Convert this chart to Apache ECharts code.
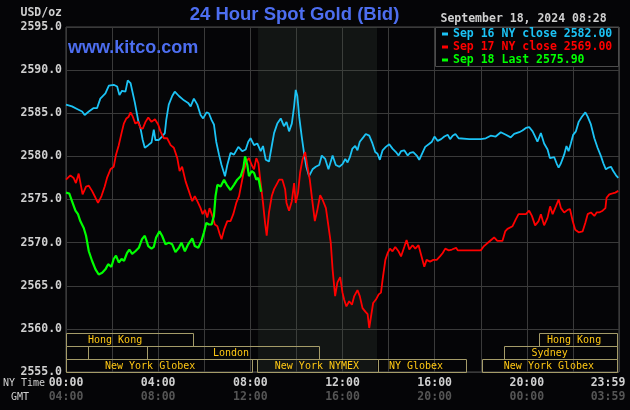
<!DOCTYPE html>
<html>
<head>
<meta charset="utf-8">
<script src="https://cdn.jsdelivr.net/npm/echarts@6/dist/echarts.min.js"></script>
<style>
html, body { margin: 0; padding: 0; background: #050507; }
#chart { width: 630px; height: 410px; }
</style>
</head>
<body>
<div id="chart"></div>
<script>
// [hours after NY midnight, bid USD/oz]
var sep16 = [
  [0.00, 2586.0], [0.26, 2585.8], [0.48, 2585.5], [0.70, 2585.2], [0.81, 2584.8], [0.99, 2585.2],
  [1.20, 2585.6], [1.35, 2585.6], [1.49, 2586.7], [1.71, 2587.3], [1.86, 2588.2], [2.07, 2588.3],
  [2.22, 2588.1], [2.32, 2587.1], [2.43, 2587.6], [2.58, 2587.5], [2.68, 2588.8], [2.80, 2588.5],
  [2.87, 2588.3], [2.99, 2586.2], [3.13, 2584.2], [3.23, 2583.3], [3.33, 2581.9], [3.42, 2581.0],
  [3.57, 2581.3], [3.71, 2581.6], [3.81, 2583.1], [3.88, 2581.9], [4.03, 2581.9], [4.17, 2582.3],
  [4.29, 2582.7], [4.35, 2584.2], [4.46, 2586.0], [4.61, 2587.0], [4.72, 2587.5], [4.90, 2587.0],
  [5.12, 2586.5], [5.30, 2586.2], [5.41, 2585.8], [5.55, 2586.7], [5.70, 2586.0], [5.84, 2584.8],
  [5.95, 2584.4], [6.10, 2585.1], [6.20, 2585.0], [6.32, 2584.2], [6.42, 2583.7], [6.52, 2581.7],
  [6.64, 2580.2], [6.75, 2579.0], [6.90, 2577.7], [7.00, 2579.0], [7.14, 2580.4], [7.29, 2580.2],
  [7.48, 2581.1], [7.65, 2580.6], [7.80, 2580.8], [7.91, 2581.7], [8.01, 2582.1], [8.16, 2581.3],
  [8.30, 2581.5], [8.45, 2580.6], [8.55, 2581.2], [8.67, 2579.6], [8.81, 2579.4], [8.93, 2581.2],
  [9.03, 2582.7], [9.17, 2583.8], [9.32, 2584.4], [9.46, 2583.5], [9.57, 2584.0], [9.68, 2582.9],
  [9.80, 2583.8], [9.90, 2585.8], [9.97, 2587.7], [10.04, 2587.0], [10.12, 2584.6], [10.23, 2582.3],
  [10.33, 2580.4], [10.43, 2578.8], [10.55, 2577.7], [10.70, 2578.5], [10.84, 2578.8], [10.99, 2579.0],
  [11.10, 2580.1], [11.25, 2579.7], [11.39, 2578.5], [11.57, 2580.1], [11.71, 2579.0], [11.86, 2578.8],
  [12.00, 2579.1], [12.12, 2579.7], [12.22, 2579.3], [12.32, 2579.9], [12.43, 2580.9], [12.55, 2581.2],
  [12.65, 2580.7], [12.75, 2581.7], [12.90, 2582.2], [13.01, 2582.6], [13.16, 2582.4], [13.30, 2581.5],
  [13.42, 2580.5], [13.52, 2580.3], [13.62, 2579.6], [13.74, 2580.7], [13.88, 2581.1], [14.03, 2581.4],
  [14.17, 2580.9], [14.32, 2580.5], [14.43, 2580.1], [14.54, 2580.6], [14.68, 2580.7], [14.83, 2580.1],
  [14.93, 2580.4], [15.07, 2580.5], [15.22, 2580.1], [15.33, 2579.6], [15.45, 2580.3], [15.59, 2581.1],
  [15.74, 2581.4], [15.88, 2581.7], [15.99, 2582.3], [16.13, 2581.8], [16.28, 2582.0], [16.42, 2582.3],
  [16.57, 2582.5], [16.67, 2582.0], [16.78, 2582.4], [16.90, 2582.6], [17.04, 2582.1], [17.50, 2582.0],
  [18.00, 2582.0], [18.22, 2582.1], [18.43, 2582.4], [18.65, 2582.3], [18.87, 2582.8], [19.09, 2582.5],
  [19.30, 2582.2], [19.45, 2582.6], [19.67, 2582.8], [19.81, 2583.0], [19.96, 2583.3], [20.10, 2583.4],
  [20.25, 2582.9], [20.36, 2582.3], [20.46, 2581.7], [20.61, 2582.7], [20.75, 2581.5], [20.90, 2580.8],
  [21.00, 2579.8], [21.19, 2579.9], [21.29, 2579.2], [21.38, 2578.7], [21.48, 2579.2], [21.62, 2580.2],
  [21.72, 2581.2], [21.81, 2580.6], [21.91, 2581.5], [22.01, 2582.5], [22.13, 2582.9], [22.25, 2584.0],
  [22.39, 2584.6], [22.54, 2585.1], [22.64, 2584.6], [22.78, 2583.7], [22.93, 2582.1], [23.07, 2581.0],
  [23.22, 2580.0], [23.32, 2579.2], [23.43, 2578.5], [23.55, 2578.7], [23.65, 2578.8], [23.75, 2578.3],
  [23.87, 2577.8], [23.97, 2577.5]
];
var sep17 = [
  [0.00, 2577.3], [0.19, 2577.8], [0.33, 2577.5], [0.43, 2576.9], [0.55, 2578.0], [0.62, 2577.8],
  [0.72, 2575.6], [0.87, 2576.5], [0.99, 2576.6], [1.13, 2576.0], [1.28, 2575.2], [1.39, 2574.6],
  [1.54, 2575.4], [1.68, 2576.5], [1.78, 2577.5], [1.93, 2578.5], [2.07, 2578.8], [2.17, 2580.2],
  [2.29, 2581.3], [2.41, 2582.7], [2.51, 2583.8], [2.62, 2584.4], [2.72, 2584.6], [2.80, 2585.1],
  [2.90, 2584.6], [3.01, 2583.8], [3.13, 2584.0], [3.23, 2583.3], [3.33, 2583.2], [3.45, 2584.0],
  [3.57, 2584.5], [3.71, 2584.0], [3.86, 2584.3], [4.00, 2583.7], [4.10, 2582.9], [4.25, 2582.1],
  [4.39, 2582.1], [4.54, 2581.3], [4.68, 2581.0], [4.83, 2579.8], [4.93, 2578.3], [5.04, 2578.8],
  [5.19, 2577.1], [5.33, 2576.0], [5.48, 2574.8], [5.59, 2575.4], [5.70, 2574.8], [5.84, 2574.0],
  [5.93, 2573.3], [6.03, 2573.8], [6.13, 2572.9], [6.23, 2574.0], [6.35, 2573.1], [6.46, 2572.1],
  [6.57, 2571.9], [6.67, 2571.0], [6.75, 2570.4], [6.86, 2571.5], [7.00, 2572.5], [7.14, 2572.5],
  [7.26, 2573.3], [7.39, 2574.6], [7.51, 2575.4], [7.62, 2576.9], [7.72, 2578.3], [7.83, 2579.4],
  [7.94, 2579.8], [8.06, 2579.0], [8.16, 2578.5], [8.26, 2579.8], [8.35, 2579.2], [8.45, 2576.9],
  [8.55, 2574.6], [8.64, 2572.3], [8.71, 2570.8], [8.81, 2573.5], [8.93, 2575.4], [9.03, 2576.2],
  [9.13, 2576.7], [9.25, 2577.3], [9.39, 2577.3], [9.51, 2576.2], [9.57, 2574.6], [9.68, 2573.7],
  [9.80, 2574.8], [9.90, 2576.9], [9.97, 2574.6], [10.07, 2575.8], [10.16, 2578.1], [10.26, 2579.6],
  [10.38, 2580.5], [10.48, 2578.8], [10.58, 2577.3], [10.70, 2574.6], [10.80, 2572.5], [10.91, 2573.8],
  [11.03, 2575.5], [11.13, 2575.0], [11.28, 2574.0], [11.39, 2571.9], [11.49, 2570.0], [11.57, 2566.9],
  [11.68, 2563.8], [11.78, 2565.4], [11.90, 2566.0], [12.00, 2564.2], [12.07, 2563.4], [12.17, 2562.6],
  [12.29, 2563.2], [12.41, 2562.8], [12.51, 2563.8], [12.65, 2564.5], [12.75, 2563.8], [12.87, 2562.4],
  [12.99, 2562.0], [13.09, 2561.7], [13.16, 2560.1], [13.23, 2561.3], [13.33, 2563.0], [13.45, 2563.4],
  [13.57, 2564.0], [13.67, 2564.2], [13.74, 2565.7], [13.86, 2568.0], [13.96, 2568.8], [14.06, 2569.3],
  [14.17, 2569.0], [14.29, 2569.5], [14.43, 2569.0], [14.54, 2568.4], [14.68, 2569.5], [14.78, 2570.3],
  [14.90, 2569.2], [15.04, 2569.7], [15.16, 2569.3], [15.30, 2569.7], [15.41, 2568.6], [15.55, 2567.2],
  [15.65, 2568.0], [15.80, 2567.8], [15.94, 2568.0], [16.09, 2568.0], [16.23, 2568.4], [16.35, 2568.8],
  [16.46, 2569.3], [16.61, 2569.1], [16.75, 2569.2], [16.93, 2569.4], [17.00, 2569.1], [18.00, 2569.1],
  [18.14, 2569.6], [18.36, 2570.1], [18.58, 2570.6], [18.72, 2570.2], [18.94, 2570.2], [19.06, 2571.3],
  [19.16, 2571.6], [19.38, 2571.9], [19.52, 2572.7], [19.64, 2573.3], [19.81, 2573.3], [19.96, 2573.3],
  [20.10, 2573.7], [20.22, 2573.1], [20.36, 2572.0], [20.51, 2572.5], [20.61, 2573.3], [20.75, 2572.0],
  [20.90, 2572.9], [21.01, 2574.2], [21.12, 2573.3], [21.26, 2574.2], [21.38, 2575.0], [21.48, 2574.0],
  [21.62, 2573.5], [21.77, 2573.8], [21.87, 2573.9], [21.99, 2572.5], [22.10, 2571.5], [22.25, 2571.2],
  [22.42, 2571.3], [22.54, 2572.3], [22.64, 2573.3], [22.78, 2573.5], [22.93, 2573.1], [23.03, 2573.5],
  [23.14, 2573.5], [23.29, 2573.7], [23.41, 2574.0], [23.46, 2575.2], [23.58, 2575.6], [23.72, 2575.7],
  [23.84, 2575.8], [23.97, 2576.0]
];
var sep18 = [
  [0.00, 2575.8], [0.14, 2575.7], [0.26, 2574.8], [0.41, 2573.7], [0.52, 2573.3], [0.62, 2572.5],
  [0.77, 2571.7], [0.87, 2570.8], [0.99, 2569.0], [1.13, 2567.9], [1.28, 2566.9], [1.42, 2566.3],
  [1.57, 2566.5], [1.71, 2566.9], [1.83, 2567.5], [1.97, 2567.2], [2.07, 2568.1], [2.17, 2568.5],
  [2.29, 2567.7], [2.41, 2568.1], [2.52, 2567.9], [2.65, 2568.8], [2.75, 2569.2], [2.87, 2568.7],
  [3.01, 2569.0], [3.16, 2569.4], [3.30, 2570.4], [3.42, 2570.8], [3.57, 2569.6], [3.71, 2569.3],
  [3.81, 2569.5], [3.91, 2570.6], [4.06, 2571.3], [4.17, 2570.8], [4.32, 2569.8], [4.46, 2570.0],
  [4.61, 2569.8], [4.75, 2568.9], [4.90, 2569.4], [5.01, 2570.0], [5.16, 2569.0], [5.30, 2569.8],
  [5.48, 2570.5], [5.59, 2569.6], [5.74, 2569.4], [5.88, 2570.2], [5.99, 2571.2], [6.09, 2572.3],
  [6.20, 2572.1], [6.32, 2572.1], [6.42, 2573.1], [6.49, 2575.4], [6.57, 2576.7], [6.71, 2576.5],
  [6.86, 2577.3], [7.00, 2576.6], [7.14, 2576.1], [7.29, 2576.7], [7.43, 2577.3], [7.58, 2577.7],
  [7.70, 2578.7], [7.77, 2580.0], [7.87, 2579.0], [7.94, 2577.7], [8.06, 2578.3], [8.16, 2578.1],
  [8.26, 2577.3], [8.35, 2577.5], [8.47, 2575.9]
];
var seriesNames = ['Sep 16 NY close 2582.00', 'Sep 17 NY close 2569.00', 'Sep 18 Last 2575.90'];
var seriesColors = ['#1cc3f5', '#ff0000', '#00ff00'];

// trading sessions: name, start h, end h, row (0 = top), label centre h
var sessions = [
  ['Hong Kong', 0, 5.5, 0, 2.13],
  ['Hong Kong', 20.52, 23.92, 0, 22.05],
  ['', 0, 0.95, 1, 0],
  ['London', 3.5, 10.97, 1, 7.16],
  ['Sydney', 19.0, 23.92, 1, 20.99],
  ['New York Globex', 0, 8.08, 2, 3.65],
  ['New York NYMEX', 8.27, 13.52, 2, 10.89],
  ['NY Globex', 13.55, 17.38, 2, 15.19],
  ['New York Globex', 18.07, 23.92, 2, 20.96]
];
var nymexOpen = 8.333, nymexClose = 13.5;

var mono = '"DejaVu Sans Mono", monospace';
var blue = '#4d6ef0';

function hh(h) { return (h < 10 ? '0' : '') + h + ':00'; }

var myChart = echarts.init(document.getElementById('chart'));

var series = [sep16, sep17, sep18].map(function (d, i) {
  return {
    name: seriesNames[i],
    type: 'line',
    data: d,
    symbol: 'none',
    z: 2 + i,
    lineStyle: { color: seriesColors[i], width: i === 2 ? 2.2 : 1.8 },
    itemStyle: { color: seriesColors[i] }
  };
});
series[0].markArea = {
  silent: true,
  itemStyle: { color: 'rgba(62,74,62,0.24)' },
  data: [[{ xAxis: nymexOpen }, { xAxis: nymexClose }]]
};
series.push({
  type: 'custom',
  silent: true,
  z: 6,
  data: sessions.map(function (s) { return [s[1], s[2]]; }),
  encode: { x: [0, 1] },
  renderItem: function (params, api) {
    var s = sessions[params.dataIndex];
    var rowH = 13;
    var a = api.coord([s[1], 2555]);
    var b = api.coord([s[2], 2555]);
    var top = Math.round(a[1] - (3 - s[3]) * rowH);
    var kids = [{
      type: 'rect',
      shape: { x: Math.round(a[0]) + 0.5, y: top + 0.5, width: Math.round(b[0] - a[0]), height: rowH },
      style: { fill: null, stroke: '#a59c69', lineWidth: 1 }
    }];
    if (s[0]) {
      kids.push({
        type: 'text',
        style: {
          text: s[0], x: api.coord([s[4], 2555])[0], y: top + rowH / 2 + 0.5,
          fill: '#ffc814', font: '10px ' + mono, align: 'center', verticalAlign: 'middle'
        }
      });
    }
    return { type: 'group', children: kids };
  }
});

var labelFont = { fontFamily: mono, fontWeight: 'bold', fontSize: 11.5, lineHeight: 14 };

var option = {
  backgroundColor: '#050507',
  animation: false,
  grid: {
    left: 66, top: 27, width: 553, height: 345,
    containLabel: false, outerBoundsMode: 'none',
    show: true, borderColor: '#4c4c4c', borderWidth: 1
  },
  legend: {
    orient: 'vertical',
    left: 442,
    top: 28,
    padding: 0,
    itemGap: 1,
    itemWidth: 6,
    itemHeight: 3,
    icon: 'rect',
    selectedMode: false,
    z: 10,
    textStyle: { fontFamily: mono, fontWeight: 'bold', fontSize: 11.5, lineHeight: 12 },
    data: seriesNames.map(function (n, i) {
      return { name: n, textStyle: { color: seriesColors[i] } };
    })
  },
  xAxis: {
    type: 'value',
    min: 0,
    max: 24,
    interval: 2,
    axisLine: { show: false },
    axisTick: { show: false },
    splitLine: { lineStyle: { color: '#3a3a3a' } },
    axisLabel: {
      margin: 4,
      showMaxLabel: true,
      formatter: function (v) {
        if (v === 24) return '{c|23:59}\n{d|03:59}';
        if (v % 4) return '';
        return '{a|' + hh(v) + '}\n{b|' + hh((v + 4) % 24) + '}';
      },
      rich: {
        a: Object.assign({ color: '#d0d0d0' }, labelFont),
        b: Object.assign({ color: '#555555' }, labelFont),
        c: Object.assign({ color: '#d0d0d0', padding: [0, 22, 0, 0] }, labelFont),
        d: Object.assign({ color: '#555555', padding: [0, 22, 0, 0] }, labelFont)
      }
    }
  },
  yAxis: {
    type: 'value',
    min: 2555,
    max: 2595,
    interval: 5,
    axisLine: { show: false },
    axisTick: { show: false },
    splitLine: { lineStyle: { color: '#3a3a3a' } },
    axisLabel: {
      margin: 4,
      color: '#d0d0d0',
      fontFamily: mono,
      fontWeight: 'bold',
      fontSize: 11.5,
      formatter: function (v) { return v.toFixed(1); }
    }
  },
  graphic: [
    { type: 'rect', z: 5, shape: { x: 435.5, y: 27.5, width: 183, height: 39 },
      style: { fill: '#050507', stroke: '#4c4c4c', lineWidth: 1 } },
    { type: 'text', z: 5, style: { text: '24 Hour Spot Gold (Bid)', x: 294.5, y: 15, align: 'center', verticalAlign: 'middle',
      fill: blue, font: 'bold 18.5px "Liberation Sans", Arial, sans-serif' } },
    { type: 'text', z: 5, style: { text: 'www.kitco.com', x: 68, y: 48.5, verticalAlign: 'middle',
      fill: blue, font: 'bold 18px "Liberation Sans", Arial, sans-serif' } },
    { type: 'text', z: 5, style: { text: 'USD/oz', x: 62, y: 13.5, align: 'right', verticalAlign: 'middle',
      fill: '#d0d0d0', font: 'bold 11.5px ' + mono } },
    { type: 'text', z: 5, style: { text: 'September 18, 2024 08:28', x: 440.5, y: 19.5, verticalAlign: 'middle',
      fill: '#d0d0d0', font: 'bold 11.5px ' + mono } },
    { type: 'text', z: 5, style: { text: 'NY Time', x: 3, y: 383, verticalAlign: 'middle',
      fill: '#d0d0d0', font: '10px ' + mono } },
    { type: 'text', z: 5, style: { text: 'GMT', x: 11, y: 397, verticalAlign: 'middle',
      fill: '#d0d0d0', font: '10px ' + mono } }
  ],
  series: series
};

myChart.setOption(option);
</script>
</body>
</html>
